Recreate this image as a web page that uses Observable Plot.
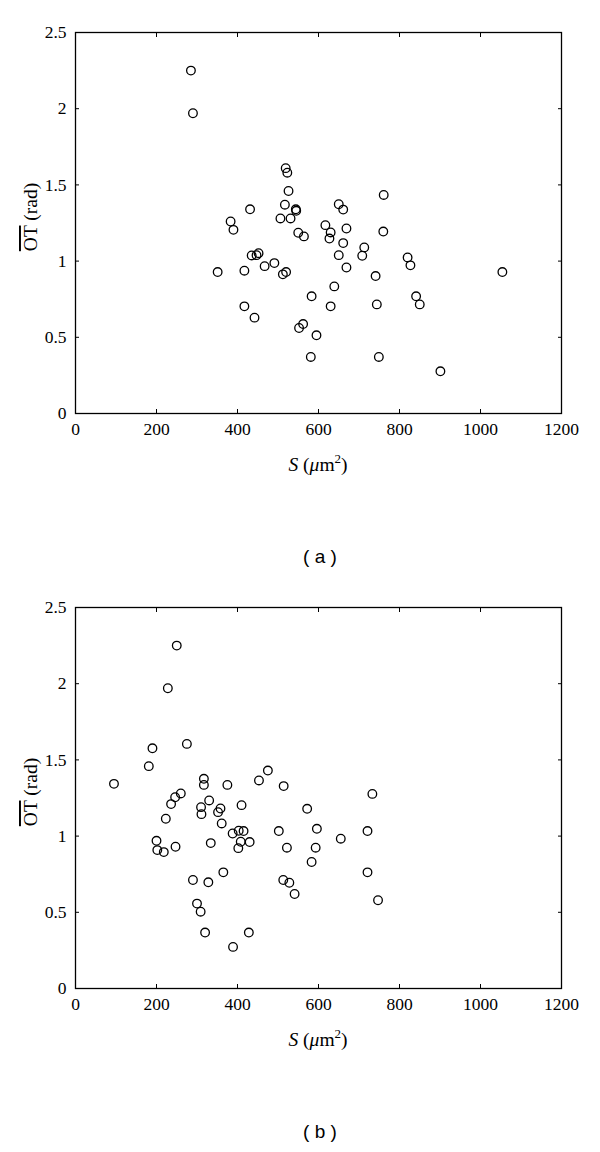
<!DOCTYPE html>
<html><head><meta charset="utf-8">
<script src="https://cdn.jsdelivr.net/npm/d3@7"></script>
<script src="https://cdn.jsdelivr.net/npm/@observablehq/plot@0.6"></script>
<style>
body{margin:0;background:#fff;width:600px;}
.panel{position:relative;width:600px;height:575px;}
.panel svg{position:absolute;left:0;top:0;}
.cap{position:absolute;left:220px;width:200px;top:546px;line-height:22px;text-align:center;font-family:"Liberation Sans",Arial,sans-serif;font-size:19px;color:#000;}
</style></head><body><div id="root"></div>
<script>
const xTicks = [0, 200, 400, 600, 800, 1000, 1200];
const yTicks = [0, 0.5, 1, 1.5, 2, 2.5];
const captions = ["( a )", "( b )"];

// Panel (a)
const sA = [285, 290, 519, 523, 526, 517, 431, 544, 545, 506, 531, 383, 390, 550, 564,
  650, 661, 761, 617, 630, 627, 669, 760, 661, 713, 708, 650, 669, 435, 447, 452,
  467, 491, 512, 520, 417, 351, 741, 820, 827, 1054, 639, 583, 630, 417, 442, 744,
  841, 850, 552, 562, 595, 581, 749, 901];
const otA = [2.25, 1.97, 1.61, 1.58, 1.46, 1.37, 1.34, 1.34, 1.33, 1.28, 1.28, 1.26, 1.205, 1.186, 1.162,
  1.373, 1.338, 1.434, 1.236, 1.188, 1.148, 1.214, 1.194, 1.118, 1.09, 1.035, 1.039, 0.958, 1.037, 1.039, 1.052,
  0.967, 0.987, 0.913, 0.928, 0.937, 0.928, 0.902, 1.024, 0.972, 0.928, 0.834, 0.769, 0.703, 0.703, 0.629, 0.716,
  0.769, 0.716, 0.561, 0.587, 0.513, 0.371, 0.371, 0.277];

// Panel (b)
const sB = [250, 228, 275, 190, 181, 95, 317, 317, 375, 453, 475, 514, 733, 260, 246,
  236, 223, 310, 311, 330, 358, 352, 361, 410, 388, 403, 415, 408, 402, 430, 334,
  200, 202, 218, 247, 572, 596, 502, 522, 593, 655, 721, 583, 721, 747, 513, 528,
  541, 365, 290, 328, 300, 309, 320, 428, 389];
const otB = [2.25, 1.97, 1.605, 1.576, 1.459, 1.343, 1.376, 1.336, 1.336, 1.365, 1.43, 1.328, 1.277, 1.28, 1.255,
  1.21, 1.114, 1.19, 1.144, 1.234, 1.181, 1.157, 1.083, 1.203, 1.017, 1.035, 1.033, 0.963, 0.921, 0.961, 0.954,
  0.969, 0.908, 0.895, 0.93, 1.179, 1.048, 1.033, 0.924, 0.924, 0.983, 1.033, 0.83, 0.762, 0.579, 0.712, 0.694,
  0.62, 0.762, 0.712, 0.697, 0.557, 0.504, 0.367, 0.367, 0.273];

const serif = "Liberation Serif";
const fmt = d => String(d);

function panel(S, OT, cap) {
  const data = S.map((s, i) => ({s, ot: OT[i]}));
  const svg = Plot.plot({
    width: 600, height: 480,
    marginLeft: 75, marginRight: 39, marginTop: 32, marginBottom: 67,
    style: {background: "white", color: "black", overflow: "visible"},
    x: {domain: [0, 1200]},
    y: {domain: [0, 2.5]},
    marks: [
      Plot.axisX(xTicks, {anchor: "bottom", tickSize: 0, tickPadding: 9, tickFormat: fmt, label: null,
        fontFamily: serif, fontSize: 17.5, fill: "black"}),
      Plot.axisX(xTicks, {anchor: "bottom", tickSize: -4, fill: "none", label: null, stroke: "black"}),
      Plot.axisX(xTicks, {anchor: "top", tickSize: -4, fill: "none", label: null, stroke: "black"}),
      Plot.axisY(yTicks, {anchor: "left", tickSize: 0, tickPadding: 9, tickFormat: fmt, label: null,
        fontFamily: serif, fontSize: 17.5, fill: "black"}),
      Plot.axisY(yTicks, {anchor: "left", tickSize: -4, fill: "none", label: null, stroke: "black"}),
      Plot.axisY(yTicks, {anchor: "right", tickSize: -4, fill: "none", label: null, stroke: "black"}),
      Plot.frame({stroke: "black", strokeWidth: 1.3}),
      Plot.dot(data, {x: "s", y: "ot", r: 4.3, stroke: "black", strokeWidth: 1.3, fill: "none"})
    ]
  });
  const g = d3.select(svg);
  // y label
  const yl = g.append("text")
    .attr("transform", "translate(37,217) rotate(-90)")
    .attr("text-anchor", "middle")
    .attr("font-family", serif).attr("font-size", 19.5).attr("fill", "black");
  yl.append("tspan").attr("text-decoration", "overline").style("text-decoration", "overline").text("OT");
  yl.append("tspan").text(" (rad)");
  // x label
  const xl = g.append("text")
    .attr("x", 318).attr("y", 471)
    .attr("text-anchor", "middle")
    .attr("font-family", serif).attr("font-size", 19.5).attr("fill", "black");
  xl.append("tspan").attr("font-style", "italic").text("S");
  xl.append("tspan").text(" (");
  xl.append("tspan").attr("font-style", "italic").text("μ");
  xl.append("tspan").text("m");
  xl.append("tspan").attr("font-size", 13).attr("dy", -8).text("2");
  xl.append("tspan").attr("dy", 8).text(")");

  const div = document.createElement("div");
  div.className = "panel";
  div.appendChild(svg);
  const c = document.createElement("div");
  c.className = "cap";
  c.textContent = cap;
  div.appendChild(c);
  return div;
}

const root = document.getElementById("root");
root.appendChild(panel(sA, otA, captions[0]));
root.appendChild(panel(sB, otB, captions[1]));
</script>
</body></html>
